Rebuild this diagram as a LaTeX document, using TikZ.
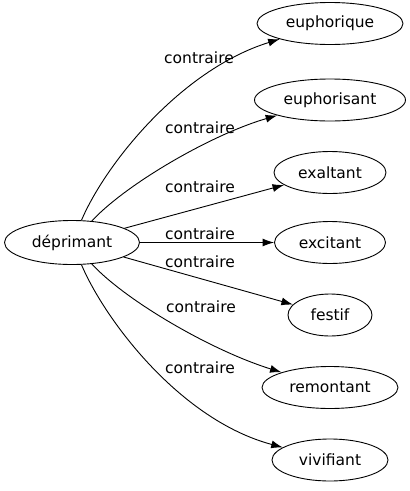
\documentclass[tikz,border=0pt]{standalone}
\usepackage{fontspec}
\setmainfont{DejaVu Sans}
\usepackage{tikz}
\usetikzlibrary{shapes,arrows.meta,positioning,calc}
\tikzstyle{word} = [draw, ellipse, line width=0.9pt, inner sep=0pt,
    minimum height=42pt, font=\fontsize{15.5}{18}\selectfont]
\tikzstyle{rel} = [inner sep=1pt, font=\fontsize{15.5}{18}\selectfont]
\tikzstyle{connector} = [-{Latex[length=11.5pt,width=8pt]}, line width=0.9pt]

\begin{document}
\begin{tikzpicture}[x=1pt, y=1pt]
    \useasboundingbox (0,0) rectangle (410,-491);
    \node (deprimant) [word, minimum width=135pt, minimum height=44pt] at (72,-242.5) {déprimant};
    \node (euphorique) [word, minimum width=146pt] at (330,-23.5) {euphorique};
    \node (euphorisant) [word, minimum width=151pt] at (330,-100) {euphorisant};
    \node (exaltant) [word, minimum width=112pt] at (330,-172.5) {exaltant};
    \node (excitant) [word, minimum width=111pt] at (330,-242.5) {excitant};
    \node (festif) [word, minimum width=84pt] at (330,-315) {festif};
    \node (remontant) [word, minimum width=136pt] at (330,-387.5) {remontant};
    \node (vivifiant) [word, minimum width=116pt] at (330,-460) {vivifiant};

    \draw [connector] (deprimant) .. controls (105,-165) and (180,-70) .. (euphorique);
    \draw [connector] (deprimant) .. controls (125,-185) and (210,-135) .. (euphorisant);
    \draw [connector] (deprimant) -- (exaltant);
    \draw [connector] (deprimant) -- (excitant);
    \draw [connector] (deprimant) -- (festif);
    \draw [connector] (deprimant) .. controls (125,-300) and (210,-350) .. (remontant);
    \draw [connector] (deprimant) .. controls (105,-320) and (180,-420) .. (vivifiant);

    \node (rel1) [rel] at (199,-58) {contraire};
    \node (rel2) [rel] at (200,-128) {contraire};
    \node (rel3) [rel] at (200,-187) {contraire};
    \node (rel4) [rel] at (200,-234) {contraire};
    \node (rel5) [rel] at (200,-262) {contraire};
    \node (rel6) [rel] at (201,-307) {contraire};
    \node (rel7) [rel] at (200,-368) {contraire};
\end{tikzpicture}
\end{document}
